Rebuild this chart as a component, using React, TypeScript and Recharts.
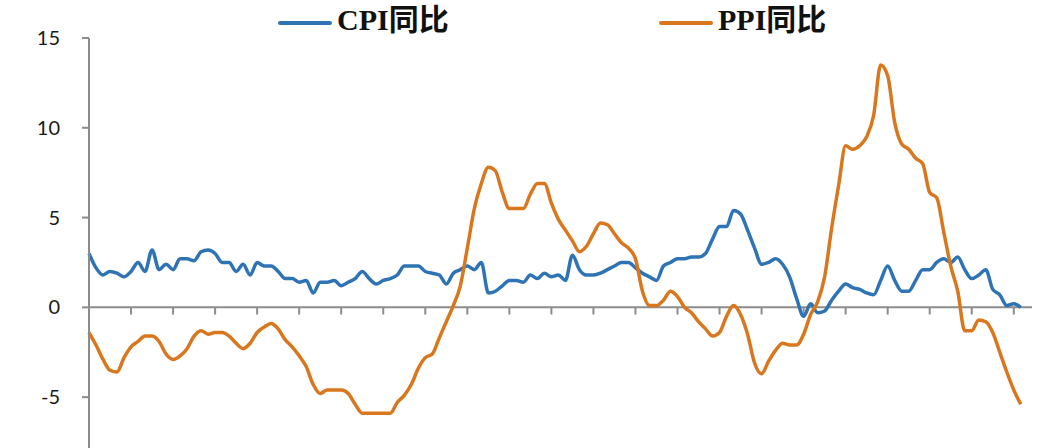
import { LineChart, Line, XAxis, YAxis, ReferenceLine, Legend } from 'recharts'

// China CPI / PPI, year-on-year %, monthly from 2012-05 to 2023-06
const START_YEAR = 2012
const START_MONTH = 5

const cpiYoY = [
  3.0, 2.2, 1.8, 2.0, 1.9, 1.7, 2.0, 2.5,
  2.0, 3.2, 2.1, 2.4, 2.1, 2.7, 2.7, 2.6, 3.1, 3.2, 3.0, 2.5,
  2.5, 2.0, 2.4, 1.8, 2.5, 2.3, 2.3, 2.0, 1.6, 1.6, 1.4, 1.5,
  0.8, 1.4, 1.4, 1.5, 1.2, 1.4, 1.6, 2.0, 1.6, 1.3, 1.5, 1.6,
  1.8, 2.3, 2.3, 2.3, 2.0, 1.9, 1.8, 1.3, 1.9, 2.1, 2.3, 2.1,
  2.5, 0.8, 0.9, 1.2, 1.5, 1.5, 1.4, 1.8, 1.6, 1.9, 1.7, 1.8,
  1.5, 2.9, 2.1, 1.8, 1.8, 1.9, 2.1, 2.3, 2.5, 2.5, 2.2, 1.9,
  1.7, 1.5, 2.3, 2.5, 2.7, 2.7, 2.8, 2.8, 3.0, 3.8, 4.5, 4.5,
  5.4, 5.2, 4.3, 3.3, 2.4, 2.5, 2.7, 2.4, 1.7, 0.5, -0.5, 0.2,
  -0.3, -0.2, 0.4, 0.9, 1.3, 1.1, 1.0, 0.8, 0.7, 1.5, 2.3, 1.5,
  0.9, 0.9, 1.5, 2.1, 2.1, 2.5, 2.7, 2.5, 2.8, 2.1, 1.6, 1.8,
  2.1, 1.0, 0.7, 0.1, 0.2, 0.0,
]

const ppiYoY = [
  -1.4, -2.1, -2.9, -3.5, -3.6, -2.8, -2.2, -1.9,
  -1.6, -1.6, -1.9, -2.6, -2.9, -2.7, -2.3, -1.6, -1.3, -1.5, -1.4, -1.4,
  -1.6, -2.0, -2.3, -2.0, -1.4, -1.1, -0.9, -1.2, -1.8, -2.2, -2.7, -3.3,
  -4.3, -4.8, -4.6, -4.6, -4.6, -4.8, -5.4, -5.9, -5.9, -5.9, -5.9, -5.9,
  -5.3, -4.9, -4.3, -3.4, -2.8, -2.6, -1.7, -0.8, 0.1, 1.2, 3.3, 5.5,
  6.9, 7.8, 7.6, 6.4, 5.5, 5.5, 5.5, 6.3, 6.9, 6.9, 5.8, 4.9,
  4.3, 3.7, 3.1, 3.4, 4.1, 4.7, 4.6, 4.1, 3.6, 3.3, 2.7, 0.9,
  0.1, 0.1, 0.4, 0.9, 0.6, 0.0, -0.3, -0.8, -1.2, -1.6, -1.4, -0.5,
  0.1, -0.4, -1.5, -3.1, -3.7, -3.0, -2.4, -2.0, -2.1, -2.1, -1.5, -0.4,
  0.3, 1.7, 4.4, 6.8, 9.0, 8.8, 9.0, 9.5, 10.7, 13.5, 12.9, 10.3,
  9.1, 8.8, 8.3, 8.0, 6.4, 6.1, 4.2, 2.3, 0.9, -1.3, -1.3, -0.7,
  -0.8, -1.4, -2.5, -3.6, -4.6, -5.4,
]

const yTicks = [-5, 0, 5, 10, 15]
// a tick mark every six months along the zero line
const xTicks = [6, 12, 18, 24, 30, 36, 42, 48, 54, 60, 66, 72, 78, 84, 90, 96, 102, 108, 114, 120, 126, 132]

const BLUE = '#2e74b5'
const ORANGE = '#d8771d'
const GRAY = '#8c8c8c'
const LEGEND_X = [278, 659]

const data = cpiYoY.map((cpi, i) => {
  const m = START_MONTH - 1 + i
  return {
    i,
    month: `${START_YEAR + Math.floor(m / 12)}-${String((m % 12) + 1).padStart(2, '0')}`,
    cpi,
    ppi: ppiYoY[i],
  }
})

function LegendRow({ payload }: { payload?: { value: string; color: string }[] }) {
  return (
    <div style={{ position: 'relative', height: 30 }}>
      {(payload ?? []).map((p, k) => (
        <div
          key={p.value}
          style={{ position: 'absolute', left: LEGEND_X[k], top: 0, height: 30, display: 'flex', alignItems: 'center' }}
        >
          <span style={{ width: 54, height: 4, background: p.color, borderRadius: 2, marginRight: 5 }} />
          <span
            style={{
              font: 'bold 30px "Liberation Serif", "Noto Sans CJK SC", serif',
              color: '#111',
              lineHeight: '30px',
              position: 'relative',
              top: -3,
            }}
          >
            {p.value}
          </span>
        </div>
      ))}
    </div>
  )
}

export default function App() {
  return (
    <div style={{ position: 'fixed', left: 0, top: 0, width: 1054, height: 448, overflow: 'hidden', background: '#fff' }}>
      <LineChart width={1054} height={451} data={data} margin={{ top: 8, right: 22, bottom: 0, left: 0 }}>
        <XAxis type="number" dataKey="i" domain={[0, 134.6]} hide />
        <YAxis
          width={89}
          domain={[-8, 15]}
          ticks={yTicks}
          interval={0}
          axisLine={{ stroke: GRAY, strokeWidth: 2 }}
          tickLine={{ stroke: GRAY, strokeWidth: 2 }}
          tickSize={7}
          tickMargin={22}
          tick={{ fill: '#1a1a1a', fontSize: 20, fontFamily: 'Lato, "Open Sans", sans-serif' }}
        />
        <Legend verticalAlign="top" content={<LegendRow />} wrapperStyle={{ left: 0, width: 1054 }} />
        <ReferenceLine y={0} stroke={GRAY} strokeWidth={2} />
        {xTicks.map((t) => (
          <ReferenceLine
            key={t}
            segment={[{ x: t, y: 0 }, { x: t, y: -0.4 }]}
            stroke={GRAY}
            strokeWidth={2}
          />
        ))}
        <Line
          type="monotone"
          dataKey="cpi"
          name="CPI同比"
          stroke={BLUE}
          strokeWidth={3.5}
          dot={false}
          isAnimationActive={false}
        />
        <Line
          type="monotone"
          dataKey="ppi"
          name="PPI同比"
          stroke={ORANGE}
          strokeWidth={3.5}
          dot={false}
          isAnimationActive={false}
        />
      </LineChart>
    </div>
  )
}
